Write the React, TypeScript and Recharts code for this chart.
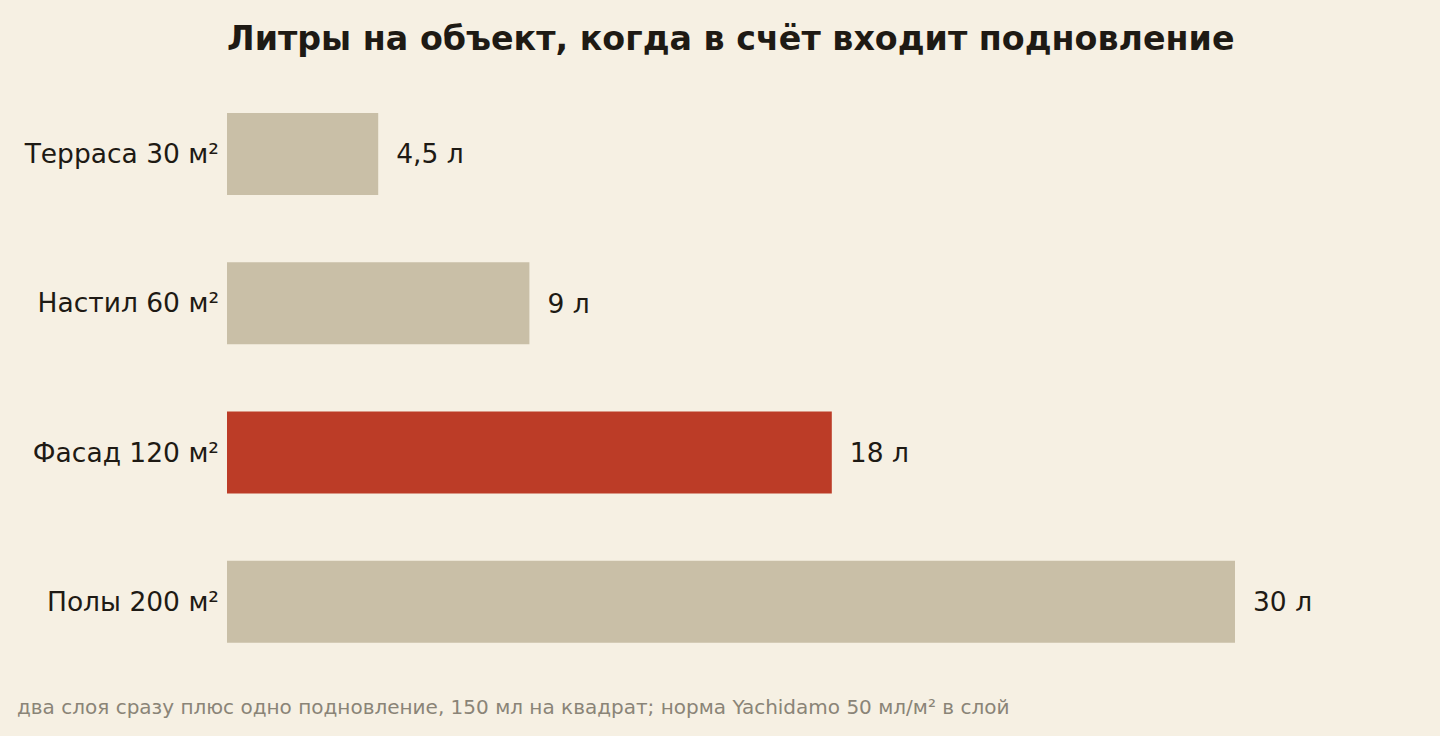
import { BarChart, Bar, XAxis, YAxis, Cell, LabelList } from 'recharts';

const categories = ['Терраса 30 м²', 'Настил 60 м²', 'Фасад 120 м²', 'Полы 200 м²'];
const liters = [4.5, 9, 18, 30];
const valueLabels = ['4,5 л', '9 л', '18 л', '30 л'];
const highlighted = 'Фасад 120 м²';

const data = categories.map((name, i) => ({ name, value: liters[i], label: valueLabels[i] }));

const FONT = '"DejaVu Sans", sans-serif';
const BG = '#f6f0e3';
const INK = '#1e1a14';

export default function App() {
  return (
    <div
      style={{
        position: 'fixed',
        left: 0,
        top: 0,
        width: 1440,
        height: 736,
        background: BG,
        fontFamily: FONT,
      }}
    >
      <div
        style={{
          position: 'absolute',
          left: 227,
          top: 19,
          fontSize: 33.3,
          fontWeight: 'bold',
          color: INK,
          whiteSpace: 'nowrap',
        }}
      >
        Литры на объект, когда в счёт входит подновление
      </div>
      <BarChart
        width={1440}
        height={736}
        data={data}
        layout="vertical"
        margin={{ top: 79, right: 205, bottom: 60, left: 0 }}
      >
        <XAxis type="number" domain={[0, 30]} hide />
        <YAxis
          type="category"
          dataKey="name"
          width={227}
          axisLine={false}
          tickLine={false}
          tickSize={0}
          tickMargin={8}
          tick={{ fill: INK, fontSize: 26.5, fontFamily: FONT }}
        />
        <Bar dataKey="value" barSize={82} isAnimationActive={false}>
          {data.map((d) => (
            <Cell key={d.name} fill={d.name === highlighted ? '#bc3c27' : '#c9bfa7'} />
          ))}
          <LabelList
            dataKey="label"
            position="right"
            offset={18}
            style={{ fill: INK, fontSize: 26.5, fontFamily: FONT }}
          />
        </Bar>
      </BarChart>
      <div
        style={{
          position: 'absolute',
          left: 17,
          top: 695,
          fontSize: 20,
          color: '#8a8477',
          whiteSpace: 'nowrap',
        }}
      >
        два слоя сразу плюс одно подновление, 150 мл на квадрат; норма Yachidamo 50 мл/м² в слой
      </div>
    </div>
  );
}
